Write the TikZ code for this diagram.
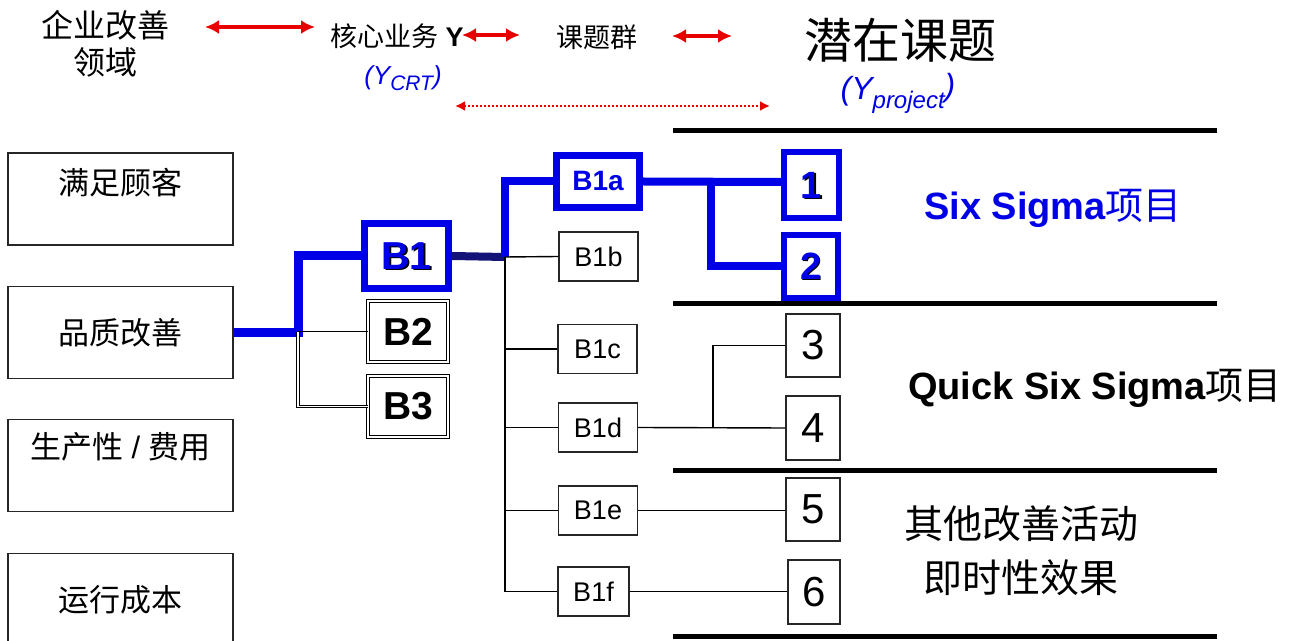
\documentclass[tikz,border=0pt]{standalone}
\usepackage{fontspec}
\setmainfont{Liberation Sans}
\newfontfamily\cjk{Noto Sans CJK SC}
\usetikzlibrary{arrows.meta}
\definecolor{cblue}{RGB}{0,0,230}
\definecolor{cnavy}{RGB}{20,20,120}
\definecolor{cred}{RGB}{230,0,0}
\newcommand{\fs}[1]{\fontsize{#1pt}{#1pt}\selectfont}
\begin{document}
\begin{tikzpicture}[x=0.5pt,y=-0.5pt,
  lbox/.style={draw=black!85, line width=0.7pt, minimum width=112.5pt, minimum height=46pt, inner sep=0pt},
  sbox/.style={draw=black!85, line width=0.7pt, inner sep=0pt, minimum width=39.5pt, minimum height=24.5pt, font=\fs{13.5}},
  nbox/.style={draw=black!85, line width=0.7pt, inner sep=0pt, minimum width=27pt, minimum height=31.5pt, font=\fs{21}},
  bbox/.style={draw=cblue, line width=3.5pt, inner sep=0pt, fill=white},
  dbox/.style={draw=black, double, double distance=0.9pt, line width=0.5pt, inner sep=0pt, minimum width=40pt, minimum height=30.5pt, font=\bfseries\fs{19.5}},
  bl/.style={draw=cblue, line width=4.5pt},
  tline/.style={draw=black, line width=0.7pt},
  rule/.style={draw=black, line width=2.5pt},
  rarr/.style={draw=cred, line width=1.6pt, {Latex[length=7pt,width=7pt]}-{Latex[length=7pt,width=7pt]}},
  rdot/.style={draw=cred, line width=1.1pt, dash pattern=on 1pt off 1pt, {Latex[length=5pt,width=5pt]}-{Latex[length=5pt,width=5pt]}},
  ttl/.style={inner sep=0pt, align=center},
]
\useasboundingbox[fill=white] (0,0) rectangle (1302,641);

% horizontal rules
\draw[rule] (673,131) -- (1217,131);
\draw[rule] (673,304) -- (1217,304);
\draw[rule] (673,471) -- (1217,471);
\draw[rule] (673,636) -- (1217,636);

% header texts
\node[ttl, font=\cjk\fontsize{16pt}{18.5pt}\selectfont] (t1) at (105,44) {企业改善\\领域};
\node[ttl, font=\fs{13.5}] (t2) at (397,36) {{\cjk 核心业务} \textbf{Y}};
\node[ttl, font=\itshape\fs{13}, text=cblue] (t2b) at (403,78) {(Y\raisebox{-0.45ex}{\fs{10.5}CRT})};
\node[ttl, font=\cjk\fs{13.5}] (t3) at (597,37) {课题群};
\node[ttl, font=\cjk\fs{24}] (t4) at (900,40) {潜在课题};
\node[ttl, font=\itshape\fs{16}, text=cblue] (t4b) at (898,93) {(Y\raisebox{-0.5ex}{\fs{12}project}\raisebox{0.2ex}{)}};

\coordinate (a1) at (205,27); \coordinate (a2) at (315,27);
\coordinate (a3) at (462,35); \coordinate (a4) at (520,35);
\coordinate (a5) at (672,36); \coordinate (a6) at (732,36);
\coordinate (a7) at (455,106); \coordinate (a8) at (770,106);
\draw[rarr] (a1) -- (a2);
\draw[rarr] (a3) -- (a4);
\draw[rarr] (a5) -- (a6);
\draw[rdot] (a7) -- (a8);

% left boxes
\node[lbox] (d1) at (120.5,199) {};
\node[ttl, font=\cjk\fs{15.5}] at (120.5,183) {满足顾客};
\node[lbox, font=\cjk\fs{15.5}] (d2) at (120.5,332.5) {品质改善};
\node[lbox] (d3) at (120.5,465.5) {};
\node[ttl, font=\fs{15.5}] at (120.5,447) {{\cjk 生产性} / {\cjk 费用}};
\node[lbox] (d4) at (120.5,599.5) {};
\node[ttl, font=\cjk\fs{15.5}] at (120.5,600) {运行成本};

% B level
\node[bbox, minimum width=42pt, minimum height=32.5pt] (b1) at (406.5,256) {};
\node[inner sep=0pt, font=\bfseries\fs{19.5}, text=black] at ([shift={(2,1)}]b1.center) {B1};
\node[inner sep=0pt, font=\bfseries\fs{19.5}, text=cblue] at (b1.center) {B1};
\node[dbox] (b2) at (408,331.5) {B2};
\node[dbox] (b3) at (408,406.5) {B3};

% B1x level
\node[bbox, minimum width=41.5pt, minimum height=26pt, font=\bfseries\fs{14}, text=cblue] (b1a) at (598,181.5) {B1a};
\node[sbox] (b1b) at (598.5,256.5) {B1b};
\node[sbox] (b1c) at (597.5,349) {B1c};
\node[sbox] (b1d) at (598,427.5) {B1d};
\node[sbox] (b1e) at (598,510.5) {B1e};
\node[sbox, minimum width=35.5pt] (b1f) at (593.5,591.5) {B1f};

% numbered boxes
\node[bbox, line width=3pt, minimum width=27.5pt, minimum height=33pt] (n1) at (811.5,185) {};
\node[inner sep=0pt, font=\bfseries\fs{19}, text=black] at ([shift={(1.5,1)}]n1.center) {1};
\node[inner sep=0pt, font=\bfseries\fs{19}, text=cblue] at (n1.center) {1};
\node[bbox, line width=3pt, minimum width=27pt, minimum height=31.5pt] (n2) at (811,266.5) {};
\node[inner sep=0pt, font=\bfseries\fs{19}, text=black] at ([shift={(1.5,1)}]n2.center) {2};
\node[inner sep=0pt, font=\bfseries\fs{19}, text=cblue] at (n2.center) {2};
\node[nbox] (n3) at (813,345.5) {3};
\node[nbox, minimum height=32pt] (n4) at (813,428) {4};
\node[nbox] (n5) at (813,509.5) {5};
\node[nbox, minimum width=26pt, minimum height=32pt] (n6) at (814,592) {6};

% connectors, left part
\coordinate (j1) at (298,332.5);
\draw[bl] (d2.east) -- (j1) |- (b1.west);
\draw[tline] (j1) |- (b2.west);
\draw[tline, double, double distance=0.9pt, line width=0.4pt] (j1) |- (b3.west);

% connectors, middle
\coordinate (j2) at (505,257);
\draw[draw=cnavy, line width=4pt] (b1.east) -- (j2);
\draw[bl, line width=4pt] (j2) |- (b1a.west);
\draw[tline] (j2) -- (b1b.west);
\draw[tline] (j2) |- (b1f.west);
\draw[tline] (j2 |- b1c.west) -- (b1c.west);
\draw[tline] (j2 |- b1d.west) -- (b1d.west);
\draw[tline] (j2 |- b1e.west) -- (b1e.west);

% connectors, right part
\coordinate (j3) at (711,182);
\draw[bl, line width=4pt] (b1a.east) -- (n1.west |- j3);
\draw[bl, line width=4pt] (j3) |- (n2.west);
\coordinate (j4) at (713,428);
\draw[tline] (b1d.east) -- (n4.west);
\draw[tline] (j4) |- (n3.west);
\draw[tline] (b1e.east) -- (n5.west |- b1e.east);
\draw[tline] (b1f.east) -- (n6.west |- b1f.east);

% right texts
\node[ttl, font=\bfseries\fs{19}, text=cblue] (s1) at (1053,208) {Six Sigma{\cjk\mdseries 项目}};
\node[ttl, font=\bfseries\fs{19}] (s2) at (1095,388) {Quick Six Sigma{\cjk\mdseries 项目}};
\node[ttl, font=\cjk\fontsize{19.5pt}{27pt}\selectfont] (s3) at (1021,551) {其他改善活动\\即时性效果};
\end{tikzpicture}
\end{document}
